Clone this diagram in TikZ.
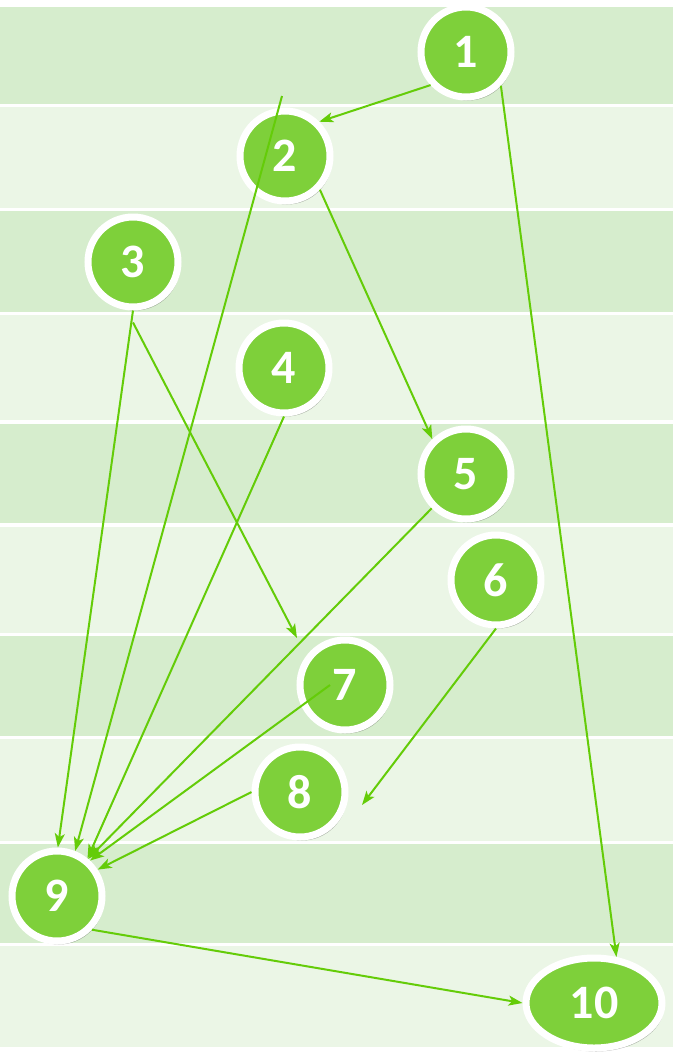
\documentclass[tikz,border=0pt]{standalone}
\usepackage{fontspec}
\setmainfont{Carlito}
\usetikzlibrary{arrows.meta,shapes.geometric,shadows}
\definecolor{nodegreen}{RGB}{126,208,58}
\definecolor{edgegreen}{RGB}{100,204,8}
\definecolor{stripedark}{RGB}{214,237,205}
\definecolor{stripelight}{RGB}{235,246,230}
\tikzset{
  vnode/.style={circle, draw=white, line width=7pt, fill=nodegreen, minimum size=90pt, inner sep=0pt,
    text=white, font=\fontsize{48}{48}\selectfont\bfseries,
    drop shadow={shadow xshift=2pt, shadow yshift=-3.5pt, fill=black, opacity=0.28}},
  enode/.style={vnode, ellipse, minimum width=136pt, minimum height=90pt},
  conn/.style={draw=edgegreen, line width=2pt, -{Stealth[length=14pt,width=10pt,inset=3.5pt]}},
  dstripe/.style={fill=stripedark},
  lstripe/.style={fill=stripelight}
}
\begin{document}
\begin{tikzpicture}[x=1pt,y=-1pt]
\useasboundingbox (0,0) rectangle (673,1053);
\fill[white] (0,0) rectangle (673,1053);
% stripes
\fill[dstripe] (0,7) rectangle (673,104);
\fill[lstripe] (0,107) rectangle (673,208);
\fill[dstripe] (0,211) rectangle (673,312);
\fill[lstripe] (0,315) rectangle (673,420);
\fill[dstripe] (0,424) rectangle (673,523);
\fill[lstripe] (0,527) rectangle (673,633);
\fill[dstripe] (0,636) rectangle (673,736);
\fill[lstripe] (0,739) rectangle (673,841);
\fill[dstripe] (0,844) rectangle (673,943);
\fill[lstripe] (0,946) rectangle (673,1047);
% nodes
\node[vnode] (n1) at (466,52) {1};
\node[vnode] (n2) at (285,156) {2};
\node[vnode] (n3) at (133,262) {3};
\node[vnode] (n4) at (284,368) {4};
\node[vnode] (n5) at (466,474) {5};
\node[vnode] (n6) at (496,580) {6};
\node[vnode] (n7) at (345,685) {7};
\node[vnode] (n8) at (300,792) {8};
\node[vnode] (n9) at (57,896) {9};
\node[enode] (n10) at (594,1003) {10};
% free ends
\coordinate (s2) at (282,96);
\coordinate (t7) at (297,638);
\coordinate (t8) at (362,805);
\coordinate (s7) at (330,685);
% connectors
\draw[conn] (n1.223) -- (n2.45);
\draw[conn] (n1.-44) -- (n10.64);
\draw[conn] (s2) -- (n9.68);
\draw[conn] (n2.-44) -- (n5.134);
\draw[conn] (n3.south) -- (n9.89);
\draw[conn] ([yshift=-12pt]n3.south) -- (t7);
\draw[conn] (n4.south) -- (n9.51);
\draw[conn] (n5.225) -- (n9.50);
\draw[conn] (n6.south) -- (t8);
\draw[conn] (s7) -- (n9.47);
\draw[conn] (n8.west) -- (n9.33);
\draw[conn] (n9.-44) -- (n10.west);
\end{tikzpicture}
\end{document}
